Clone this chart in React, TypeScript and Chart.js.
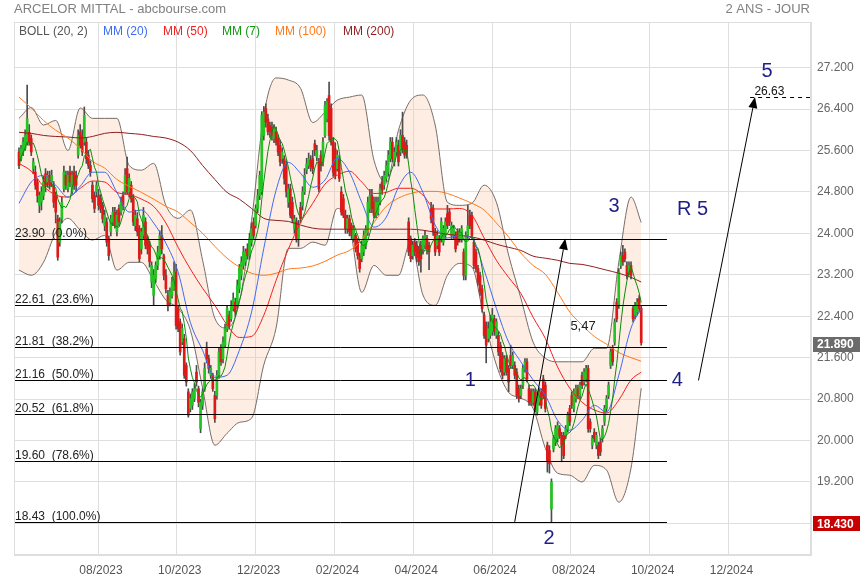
import React, { useEffect, useRef } from "react";
import { Chart, registerables } from "chart.js";

Chart.register(...registerables);

// ---------------- DATA ----------------
const TITLE = "ARCELOR MITTAL - abcbourse.com";
const PERIOD = "2 ANS - JOUR";

// x unit = months since 01/08/2023
const X_TICKS = [0, 2, 4, 6, 8, 10, 12, 14, 16];
const X_TICK_LABELS = ["08/2023", "10/2023", "12/2023", "02/2024", "04/2024", "06/2024", "08/2024", "10/2024", "12/2024"];
const Y_TICKS = [18.4, 19.2, 20.0, 20.8, 21.6, 22.4, 23.2, 24.0, 24.8, 25.6, 26.4, 27.2];
const X_MIN = -2.132;
const X_MAX = 18.096;
const Y_MIN = 17.79;
const Y_MAX = 28.08;

// first and last session (in months since 01/08/2023)
const FIRST_M = -2.005;
const LAST_M = 13.787;

const OPEN = [
  25.57,25.44,25.57,25.63,25.76,25.95,25.83,25.25,25.18,24.99,24.54,24.60,24.73,25.15,24.99,25.12,24.99,24.93,24.73,24.28,
  23.83,24.28,24.86,25.12,24.86,25.18,24.80,25.18,25.12,25.51,25.96,25.89,25.76,25.76,25.51,25.31,24.93,24.73,24.80,24.73,
  24.67,24.54,24.15,24.22,23.90,24.03,24.22,24.41,
  24.03,24.48,24.41,24.73,24.80,25.25,24.80,24.93,24.67,24.15,24.28,24.09,23.70,23.96,24.22,23.90,23.77,23.06,22.80,23.12,
  23.38,23.57,23.96,23.57,23.19,22.80,22.67,22.80,22.93,23.25,22.55,22.29,21.90,21.97,21.45,20.94,20.62,20.68,20.81,21.32,
  21.00,20.23,20.68,21.00,21.77,21.58,21.26,21.26,20.87,20.87,21.26,
  21.77,21.58,21.84,22.16,22.42,22.35,22.55,22.67,22.61,22.93,23.19,23.38,23.45,23.70,23.57,23.83,24.22,24.15,24.48,24.73,
  24.80,25.89,26.41,26.21,26.08,26.05,25.83,25.96,25.83,25.70,25.44,25.44,25.31,24.60,24.86,24.60,24.09,24.22,23.90,24.50,
  24.54,24.80,25.22,25.31,25.41,25.44,25.73,25.47,25.38,25.51,25.38,25.89,
  26.21,26.66,26.41,25.76,25.63,25.25,25.44,24.80,24.67,24.35,24.09,24.28,24.15,23.90,23.96,23.83,23.57,23.51,23.64,23.77,
  24.03,24.48,24.73,24.60,24.35,24.41,24.60,24.99,24.93,25.06,25.18,25.44,25.76,25.38,25.57,25.70,25.57,25.89,25.76,25.70,
  24.22,23.90,23.57,23.83,23.77,23.70,23.77,23.70,23.77,23.90,23.77,24.48,
  24.48,24.03,23.77,23.90,23.90,23.83,23.96,24.38,24.41,23.96,23.96,23.96,24.03,23.90,23.90,23.64,23.19,23.96,24.35,24.35,
  23.83,23.64,23.32,23.19,22.93,22.42,22.22,21.97,22.03,22.10,22.35,22.03,22.03,21.84,21.64,21.32,21.58,21.39,21.64,21.45,
  21.45,21.32,21.00,20.87,21.07,21.39,21.52,21.00,20.94,20.74,20.94,20.55,
  20.74,20.94,21.19,21.07,19.91,19.81,18.68,19.84,19.97,20.04,20.23,20.10,20.10,20.10,20.23,20.62,20.87,20.62,20.81,21.00,
  20.87,21.26,21.13,21.19,21.39,20.36,19.91,20.16,19.91,19.91,19.97,20.04,20.36,20.62,20.87,21.45,21.77,21.90,22.67,22.61,
  23.38,23.57,23.64,23.38,23.25,23.38,22.55,22.42,22.48,22.74,22.55,
];
const HIGH = [
  25.65,25.70,25.85,26.00,26.86,26.10,25.90,25.45,25.30,25.05,24.80,24.90,25.10,25.25,25.20,25.20,25.22,25.00,24.80,24.35,
  24.30,24.70,25.30,25.20,25.20,25.30,25.20,25.30,25.20,26.00,26.10,26.00,26.44,25.85,25.60,25.40,25.00,24.80,25.00,24.85,
  24.75,24.60,24.45,24.30,23.95,24.35,24.50,24.50,
  24.45,24.55,24.70,24.80,25.25,25.47,25.15,25.00,24.75,24.45,24.40,24.15,24.10,24.50,24.30,23.95,23.85,23.45,23.30,23.45,
  23.75,24.05,24.15,23.60,23.30,22.90,22.95,23.15,23.45,23.40,22.60,22.35,22.25,22.05,21.50,21.00,20.90,21.00,21.10,21.45,
  21.05,20.80,21.00,21.50,21.90,21.65,21.45,21.30,20.95,21.35,21.80,
  21.85,22.00,22.25,22.60,22.50,22.70,22.85,22.75,23.10,23.40,23.55,23.75,23.70,23.80,24.00,24.20,24.30,24.55,24.85,25.20,
  26.35,26.45,26.50,26.30,26.15,26.15,26.10,26.05,25.90,25.80,25.65,25.50,25.40,24.95,24.95,24.70,24.35,24.30,24.25,24.60,
  24.90,25.25,25.45,25.55,25.50,25.60,25.80,25.70,25.45,25.60,25.85,26.55,
  26.60,26.92,26.50,25.85,25.75,25.60,25.50,24.90,24.75,24.45,24.35,24.35,24.20,24.15,24.00,23.90,23.62,23.85,24.05,24.15,
  24.70,24.85,24.85,24.70,24.70,24.70,24.95,25.10,25.20,25.40,25.60,25.85,25.85,25.65,25.85,25.80,26.00,26.34,25.85,25.80,
  24.30,23.95,23.85,23.90,23.85,23.75,23.85,23.95,24.05,23.96,23.83,24.60,
  24.55,24.10,24.05,23.96,24.30,24.15,24.30,24.54,24.48,24.22,24.15,24.03,24.09,24.09,24.15,23.70,24.03,24.54,24.45,24.41,
  23.90,23.70,23.38,23.25,23.00,22.48,22.29,22.29,22.42,22.55,22.42,22.35,22.10,21.90,21.70,21.64,21.65,21.45,21.84,21.71,
  21.52,21.39,21.07,21.07,21.45,21.58,21.58,21.07,21.00,21.00,21.00,20.94,
  21.00,21.00,21.26,21.13,19.97,19.90,19.26,20.10,20.29,20.36,20.29,20.16,20.16,20.29,20.55,20.68,20.94,21.00,21.07,21.07,
  21.13,21.32,21.39,21.45,21.45,20.42,20.10,20.23,20.16,19.97,20.04,20.29,20.68,20.87,21.13,21.77,21.84,22.35,22.74,23.32,
  23.64,23.77,23.70,23.45,23.45,23.45,22.61,22.67,22.74,22.80,22.61,
];
const LOW = [
  25.25,25.40,25.50,25.60,25.70,25.70,25.50,25.15,24.85,24.60,24.40,24.45,24.65,24.80,24.90,24.85,24.90,24.50,24.20,23.48,
  23.75,24.20,24.80,24.85,24.80,24.90,24.75,24.85,24.80,25.45,25.65,25.50,25.70,25.35,25.25,25.10,24.60,24.40,24.70,24.45,
  24.40,24.20,24.05,23.75,23.48,23.95,24.15,24.10,
  23.95,24.15,24.35,24.45,24.75,24.75,24.70,24.60,24.15,24.05,23.95,23.45,23.60,23.90,23.70,23.60,23.35,22.95,22.61,23.05,
  23.30,23.50,23.60,23.10,22.85,22.50,22.60,22.75,22.90,22.15,22.10,21.65,21.85,21.20,21.05,20.45,20.55,20.60,20.75,21.05,
  20.65,20.15,20.60,20.95,21.50,21.30,21.20,20.95,20.35,20.80,21.20,
  21.45,21.50,21.80,22.10,22.15,22.30,22.50,22.40,22.55,22.85,23.10,23.30,23.38,23.50,23.50,23.75,23.90,24.10,24.40,24.65,
  24.75,25.80,26.05,25.90,25.85,25.80,25.75,25.70,25.50,25.30,25.35,24.95,24.70,24.50,24.30,24.20,24.00,23.83,23.75,24.20,
  24.45,24.75,25.15,25.25,25.20,25.15,25.50,25.40,24.80,25.20,25.30,25.85,
  26.15,25.80,25.70,25.10,25.05,25.20,25.00,24.35,24.30,24.00,24.00,23.95,23.90,23.83,23.64,23.50,23.25,23.45,23.57,23.70,
  23.96,24.40,24.40,24.30,24.30,24.35,24.55,24.75,24.85,25.00,25.10,25.38,25.38,25.30,25.50,25.30,25.50,25.55,25.45,25.45,
  23.57,23.45,23.50,23.57,23.45,23.38,23.25,23.60,23.70,23.60,23.30,24.20,
  23.96,23.57,23.70,23.57,23.83,23.77,23.90,24.09,24.15,23.90,23.90,23.64,23.77,23.83,23.83,23.10,23.10,23.90,24.09,23.90,
  23.32,23.25,23.00,22.80,22.48,21.97,21.50,21.90,21.97,22.03,22.03,21.97,21.64,21.32,21.19,21.26,21.26,20.94,21.39,21.39,
  21.19,20.81,20.74,20.81,21.00,21.32,21.13,20.68,20.68,20.68,20.55,20.49,
  20.68,20.62,20.81,20.55,19.39,19.37,18.43,19.78,19.90,19.97,20.04,19.59,19.65,20.04,20.16,20.29,20.62,20.55,20.74,20.81,
  20.81,21.00,21.07,21.13,20.16,20.16,19.84,19.97,19.84,19.65,19.71,19.97,20.29,20.55,20.81,21.39,21.45,21.84,22.29,22.55,
  23.32,23.38,23.45,23.12,23.19,23.12,22.29,22.35,22.42,22.48,21.84,
];
const CLOSE = [
  25.31,25.63,25.76,25.89,26.21,25.76,25.57,25.38,24.93,24.73,24.73,24.80,24.99,24.93,25.12,24.93,25.12,24.60,24.41,23.54,
  24.22,24.60,25.18,24.93,25.12,24.99,25.12,24.93,24.93,25.89,25.70,25.57,26.28,25.44,25.31,25.18,24.67,24.48,24.93,24.54,
  24.48,24.28,24.35,23.83,23.57,24.28,24.41,24.15,
  24.35,24.22,24.60,24.54,25.12,24.80,25.06,24.67,24.22,24.35,24.03,23.51,24.03,24.35,23.77,23.70,23.45,23.38,23.19,23.38,
  23.64,23.96,23.70,23.19,22.93,22.61,22.87,23.06,23.25,22.22,22.16,21.71,22.16,21.26,21.13,20.49,20.81,20.94,21.00,21.13,
  20.74,20.74,20.94,21.39,21.58,21.39,21.39,21.00,20.42,21.26,21.71,
  21.52,21.90,22.16,22.55,22.22,22.61,22.74,22.48,23.00,23.32,23.45,23.64,23.64,23.57,23.90,24.09,23.96,24.48,24.73,25.12,
  26.28,26.34,26.15,25.96,25.96,25.89,26.02,25.76,25.57,25.38,25.57,25.06,24.80,24.86,24.35,24.28,24.28,23.90,24.15,24.28,
  24.80,25.12,25.34,25.44,25.28,25.25,25.60,25.60,24.86,25.31,25.76,26.47,
  26.54,25.89,25.76,25.18,25.12,25.51,25.06,24.41,24.35,24.09,24.28,24.03,23.96,24.09,23.70,23.57,23.32,23.77,23.96,24.09,
  24.60,24.73,24.48,24.35,24.60,24.60,24.86,24.83,25.12,25.31,25.51,25.76,25.44,25.57,25.76,25.38,25.89,25.63,25.51,25.54,
  23.64,23.51,23.77,23.64,23.54,23.45,23.51,23.90,23.96,23.70,23.64,24.28,
  24.03,23.64,23.96,23.64,24.22,24.09,24.22,24.15,24.22,24.15,24.09,23.70,23.83,24.03,24.09,23.19,23.96,24.15,24.15,23.96,
  23.38,23.32,23.06,22.87,22.55,22.03,21.84,22.16,22.29,22.42,22.10,22.29,21.71,21.39,21.26,21.58,21.32,21.13,21.45,21.64,
  21.26,20.87,20.81,21.00,21.39,21.52,21.19,20.74,20.74,20.94,20.62,20.87,
  20.94,20.68,20.87,20.62,19.59,19.55,19.20,20.04,20.23,20.29,20.10,19.91,19.71,20.23,20.49,20.36,20.68,20.94,21.00,20.87,
  21.07,21.07,21.32,21.39,20.23,20.23,20.04,20.04,20.10,19.71,19.78,20.23,20.62,20.81,21.07,21.71,21.52,22.29,22.35,23.25,
  23.57,23.45,23.51,23.19,23.38,23.19,22.35,22.61,22.67,22.55,21.89,
];

// indicator readings, one every 6 sessions (last one = last session)
const SAMPLE_STEP = 6;
const BOLL_UP = [
  26.22,26.43,26.09,26.18,25.60,26.42,26.22,26.22,26.22,25.31,25.22,25.35,24.54,24.29,24.45,23.48,22.36,22.17,22.67,24.25,
  26.28,27.00,26.96,26.80,26.14,26.34,26.57,26.63,26.67,25.41,24.97,25.99,26.57,26.67,26.09,24.60,24.54,24.58,24.93,24.60,
  23.58,22.75,21.90,21.59,21.52,21.52,21.52,21.78,21.78,23.44,24.70,24.21,
];
const BOLL_LOW = [
  23.29,23.19,23.44,24.02,24.29,24.06,23.87,23.96,23.29,23.44,23.44,23.09,22.71,22.55,22.13,21.01,19.91,20.14,20.35,20.43,
  21.46,22.17,23.71,23.71,23.83,23.77,24.48,24.16,22.86,23.38,23.19,23.19,23.83,22.81,22.61,23.19,23.42,23.35,22.36,21.46,
  20.93,20.82,20.62,19.85,19.37,19.33,19.20,19.52,19.43,18.81,19.47,21.01,
];
const MM20 = [
  24.58,24.99,25.12,24.93,24.70,24.91,25.18,25.18,24.79,24.41,24.45,24.20,23.81,23.25,22.28,21.74,21.22,21.26,21.74,22.48,
  23.71,24.83,25.37,25.16,24.89,25.03,25.45,25.18,24.60,24.12,24.31,24.89,25.18,24.79,24.16,23.91,23.96,23.91,23.29,22.55,
  21.90,21.52,21.17,20.87,20.39,20.20,20.39,20.68,20.55,21.26,22.17,22.55,
];
const MM50 = [
  25.35,25.20,24.91,24.74,24.70,24.87,25.01,24.99,24.79,24.75,24.66,24.52,24.20,23.73,23.31,22.94,22.61,22.23,21.99,22.01,
  22.42,23.09,23.69,24.21,24.58,24.95,25.12,25.20,24.99,24.77,24.79,24.87,24.87,24.74,24.47,24.47,24.48,24.35,23.91,23.48,
  23.15,22.84,22.38,21.97,21.42,21.01,20.74,20.59,20.53,20.78,21.17,21.32,
];
const MM100 = [
  26.63,26.42,26.18,25.99,25.84,25.64,25.39,25.26,25.04,24.91,24.79,24.66,24.52,24.41,24.21,24.00,23.75,23.52,23.35,23.23,
  23.19,23.23,23.31,23.33,23.37,23.46,23.58,23.67,23.87,24.21,24.52,24.68,24.77,24.81,24.81,24.77,24.68,24.58,24.45,24.20,
  23.93,23.62,23.38,23.21,22.86,22.48,22.23,22.01,21.86,21.70,21.60,21.53,
];
const MM200 = [
  25.95,25.93,25.89,25.87,25.86,25.84,25.87,25.93,25.95,25.93,25.91,25.87,25.84,25.76,25.60,25.31,25.04,24.79,24.66,24.48,
  24.29,24.25,24.23,24.16,24.10,24.08,24.08,24.08,24.08,24.08,24.08,24.08,24.08,24.06,24.02,23.98,23.96,23.93,23.87,23.79,
  23.73,23.67,23.56,23.52,23.48,23.42,23.40,23.35,23.29,23.23,23.15,23.06,
];
const MM7_WINDOW = 7;

// Fibonacci retracement
const FIB_LEVELS = [23.90, 22.61, 21.81, 21.16, 20.52, 19.60, 18.43];
const FIB_PCTS = ["0.0%", "23.6%", "38.2%", "50.0%", "61.8%", "78.6%", "100.0%"];
const FIB_END_M = 14.44;

// wave annotations
const WAVE_LABELS = ["1", "2", "3", "4", "5", "R 5"];
const WAVE_M = [9.45, 11.45, 13.10, 14.70, 16.98, 15.09];
const WAVE_V = [21.16, 18.10, 24.51, 21.16, 27.13, 24.47];

// arrows
const ARROW_FROM_M = [10.576, 15.24];
const ARROW_FROM_V = [18.43, 21.16];
const ARROW_TO_M = [11.86, 16.675];
const ARROW_TO_V = [23.90, 26.63];
const MOVE_LABEL = "5,47";
const MOVE_M = 12.31;
const MOVE_V = 22.21;
const TARGET = 26.63;
const TARGET_FROM_M = 16.55;
const TARGET_LABEL_M = 16.66;

const LEGEND_LABELS = ["BOLL (20, 2)", "MM (20)", "MM (50)", "MM (7)", "MM (100)", "MM (200)"];

// ---------------- STYLE ----------------
const FONT = '"Liberation Sans", Arial, Helvetica, sans-serif';
const GRID = "#dedede";
const UP = "#22c522";
const DOWN = "#e01818";
const WICK = "#4d4d4d";
const BAND = "#766c68";
const BAND_FILL = "rgba(249,196,160,0.30)";
const NAVY = "#1f1f86";
const C_MM20 = "#3d6cf2";
const C_MM50 = "#f22020";
const C_MM7 = "#0b8c0b";
const C_MM100 = "#ff7a1a";
const C_MM200 = "#8e1f1f";
const LEGEND_COLORS = ["#555555", C_MM20, C_MM50, "#129912", C_MM100, C_MM200];
const LEGEND_OFFSETS = [5, 89, 149, 208, 261, 329];

const N = Math.min(OPEN.length, HIGH.length, LOW.length, CLOSE.length);
const candleM = (i: number) => FIRST_M + (i * (LAST_M - FIRST_M)) / (N - 1);
const sampled = (vals: number[]) =>
  vals.map((v, k) => ({ x: candleM(Math.min(k * SAMPLE_STEP, N - 1)), y: v }));

function drawArrow(ctx: CanvasRenderingContext2D, x1: number, y1: number, x2: number, y2: number) {
  const ang = Math.atan2(y2 - y1, x2 - x1);
  const len = 11;
  const half = 4.5;
  const bx = x2 - len * Math.cos(ang);
  const by = y2 - len * Math.sin(ang);
  ctx.beginPath();
  ctx.moveTo(x1, y1);
  ctx.lineTo(bx, by);
  ctx.stroke();
  ctx.beginPath();
  ctx.moveTo(x2, y2);
  ctx.lineTo(bx + half * Math.sin(ang), by - half * Math.cos(ang));
  ctx.lineTo(bx - half * Math.sin(ang), by + half * Math.cos(ang));
  ctx.closePath();
  ctx.fill();
}

const overlayPlugin = {
  id: "overlay",
  afterDatasetsDraw(chart: any) {
    const { ctx, chartArea: a, scales } = chart;
    const px = (m: number) => scales.x.getPixelForValue(m);
    const py = (v: number) => scales.y.getPixelForValue(v);
    ctx.save();
    ctx.beginPath();
    ctx.rect(a.left, a.top, a.right - a.left, a.bottom - a.top);
    ctx.clip();

    // Fibonacci lines + labels
    ctx.strokeStyle = "#000";
    ctx.lineWidth = 1;
    ctx.font = `12px ${FONT}`;
    ctx.fillStyle = "#222";
    ctx.textAlign = "left";
    ctx.textBaseline = "alphabetic";
    const xe = px(FIB_END_M);
    FIB_LEVELS.forEach((lv, i) => {
      const y = Math.round(py(lv)) + 0.5;
      ctx.beginPath();
      ctx.moveTo(a.left, y);
      ctx.lineTo(xe, y);
      ctx.stroke();
      ctx.fillText(`${lv.toFixed(2)}  (${FIB_PCTS[i]})`, a.left + 1, y - 3);
    });

    // arrows
    ctx.fillStyle = "#000";
    ARROW_FROM_M.forEach((_, i) => {
      drawArrow(ctx, px(ARROW_FROM_M[i]), py(ARROW_FROM_V[i]), px(ARROW_TO_M[i]), py(ARROW_TO_V[i]));
    });

    // target dashed line
    const ty = Math.round(py(TARGET)) + 0.5;
    ctx.setLineDash([4, 4]);
    ctx.beginPath();
    ctx.moveTo(px(TARGET_FROM_M), ty);
    ctx.lineTo(a.right, ty);
    ctx.stroke();
    ctx.setLineDash([]);
    ctx.fillStyle = "#111";
    ctx.font = `12px ${FONT}`;
    ctx.textAlign = "left";
    ctx.fillText(TARGET.toFixed(2), px(TARGET_LABEL_M), ty - 3);

    // move label
    ctx.textAlign = "center";
    ctx.textBaseline = "middle";
    ctx.fillStyle = "#222";
    ctx.font = `13px ${FONT}`;
    ctx.fillText(MOVE_LABEL, px(MOVE_M), py(MOVE_V));

    // wave labels
    ctx.font = `20px ${FONT}`;
    ctx.fillStyle = NAVY;
    WAVE_LABELS.forEach((t, i) => ctx.fillText(t, px(WAVE_M[i]), py(WAVE_V[i])));
    ctx.restore();
  },
  afterDraw(chart: any) {
    const { ctx, chartArea: a, scales } = chart;
    const py = (v: number) => scales.y.getPixelForValue(v);
    ctx.save();
    // frame
    ctx.strokeStyle = GRID;
    ctx.lineWidth = 1;
    ctx.strokeRect(a.left + 0.5, a.top + 0.5, a.right - a.left - 1, a.bottom - a.top - 1);

    // title
    ctx.font = `13px ${FONT}`;
    ctx.fillStyle = "#808080";
    ctx.textBaseline = "middle";
    ctx.textAlign = "left";
    ctx.fillText(TITLE, a.left, 9);
    ctx.textAlign = "right";
    ctx.fillText(PERIOD, a.right - 1, 9);

    // legend
    ctx.font = `12px ${FONT}`;
    ctx.textAlign = "left";
    LEGEND_LABELS.forEach((t, i) => {
      ctx.fillStyle = LEGEND_COLORS[i];
      ctx.fillText(t, a.left + LEGEND_OFFSETS[i], a.top + 10);
    });

    // badges
    const badge = (v: number, bg: string) => {
      const cy = py(v) + 2;
      ctx.fillStyle = bg;
      ctx.fillRect(a.right + 2, Math.round(cy - 7.5), chart.width - a.right - 2, 15);
      ctx.fillStyle = "#fff";
      ctx.font = `bold 12px ${FONT}`;
      ctx.textAlign = "left";
      ctx.textBaseline = "middle";
      ctx.fillText(v.toFixed(3), a.right + 6, cy + 0.5);
    };
    badge(CLOSE[N - 1], "#6b6b6b");
    badge(Math.min(...LOW.slice(0, N)), "#c80000");
    ctx.restore();
  },
};

export default function App() {
  const ref = useRef<HTMLCanvasElement | null>(null);
  useEffect(() => {
    document.body.style.margin = "0";
    Chart.defaults.font.family = FONT;
    Chart.defaults.font.size = 12;

    const xs = Array.from({ length: N }, (_, i) => candleM(i));
    const wickData = xs.map((x, i) => ({ x, y: [LOW[i], HIGH[i]] }));
    const bodyData = xs.map((x, i) => ({ x, y: [OPEN[i], CLOSE[i]] }));
    const mm7 = xs.map((x, i) => {
      const w = CLOSE.slice(Math.max(0, i - MM7_WINDOW + 1), i + 1);
      return { x, y: w.reduce((s, v) => s + v, 0) / w.length };
    });

    const lineDs = (label: string, data: any[], color: string, order: number) => ({
      type: "line",
      label,
      data,
      borderColor: color,
      borderWidth: 1,
      pointRadius: 0,
      fill: false,
      cubicInterpolationMode: "monotone",
      order,
    });

    const chart = new Chart(ref.current as HTMLCanvasElement, {
      type: "bar",
      data: {
        datasets: [
          { ...lineDs("BOLL+", sampled(BOLL_UP), BAND, 10) },
          { ...lineDs("BOLL-", sampled(BOLL_LOW), BAND, 9), fill: "-1", backgroundColor: BAND_FILL },
          {
            type: "bar",
            label: "wick",
            data: wickData,
            backgroundColor: WICK,
            barThickness: 1,
            grouped: false,
            order: 6,
          },
          {
            type: "bar",
            label: "body",
            data: bodyData,
            backgroundColor: (c: any) => (CLOSE[c.dataIndex] >= OPEN[c.dataIndex] ? UP : DOWN),
            barThickness: 2,
            minBarLength: 1,
            grouped: false,
            order: 5,
          },
          lineDs("MM200", sampled(MM200), C_MM200, 4),
          lineDs("MM100", sampled(MM100), C_MM100, 3),
          lineDs("MM50", sampled(MM50), C_MM50, 2),
          lineDs("MM20", sampled(MM20), C_MM20, 1),
          { ...lineDs("MM7", mm7, C_MM7, 0), cubicInterpolationMode: "default", tension: 0 },
        ] as any,
      },
      options: {
        animation: false,
        responsive: false,
        devicePixelRatio: 1,
        events: [],
        layout: { padding: { left: 14, top: 22, right: 0, bottom: 0 } },
        plugins: {
          legend: { display: false },
          tooltip: { enabled: false },
          filler: { drawTime: "beforeDatasetsDraw" },
        } as any,
        scales: {
          x: {
            type: "linear",
            min: X_MIN,
            max: X_MAX,
            offset: false,
            afterBuildTicks: (s: any) => {
              s.ticks = X_TICKS.map((v) => ({ value: v }));
            },
            afterFit: (s: any) => {
              s.height = 25;
            },
            grid: { color: GRID, drawTicks: false, offset: false },
            border: { display: true, color: GRID },
            ticks: {
              autoSkip: false,
              maxRotation: 0,
              padding: 8,
              labelOffset: 3,
              color: "#555",
              font: { size: 12 },
              callback: (v: any) => {
                const i = X_TICKS.indexOf(Number(v));
                return i >= 0 ? X_TICK_LABELS[i] : "";
              },
            },
          },
          y: {
            type: "linear",
            position: "right",
            min: Y_MIN,
            max: Y_MAX,
            afterBuildTicks: (s: any) => {
              s.ticks = Y_TICKS.map((v) => ({ value: v }));
            },
            afterFit: (s: any) => {
              s.width = 49;
            },
            grid: { color: GRID, drawTicks: false },
            border: { display: true, color: GRID },
            ticks: {
              autoSkip: false,
              padding: 6,
              color: "#666",
              font: { size: 12 },
              callback: (v: any) => Number(v).toFixed(3),
            },
          },
        } as any,
      },
      plugins: [overlayPlugin],
    } as any);
    return () => chart.destroy();
  }, []);

  return (
    <div style={{ width: 860, height: 580 }}>
      <canvas ref={ref} width={860} height={580} style={{ display: "block" }} />
    </div>
  );
}
